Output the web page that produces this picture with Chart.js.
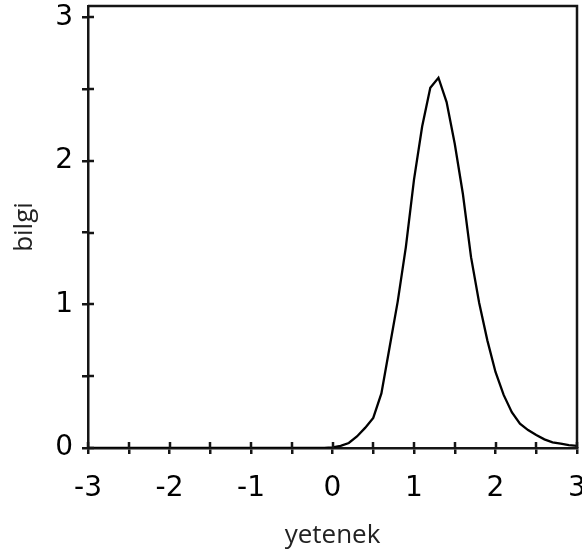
<!DOCTYPE html>
<html>
<head>
<meta charset="utf-8">
<script src="https://cdn.jsdelivr.net/npm/chart.js@4/dist/chart.umd.min.js"></script>
<style>
html,body{margin:0;padding:0;background:#fff;}
#c{display:block;}
</style>
</head>
<body>
<canvas id="c" width="582" height="553"></canvas>
<script>
// ability (yetenek) values
const abilityValues = [-3, -2, -1, -0.1, 0, 0.1, 0.2, 0.3, 0.4, 0.5, 0.6, 0.7, 0.8, 0.9, 1.0,
  1.1, 1.2, 1.3, 1.4, 1.5, 1.6, 1.7, 1.8, 1.9, 2.0, 2.1, 2.2, 2.3, 2.4, 2.5, 2.6, 2.7, 2.8, 2.9, 3.0];
// information (bilgi) values
const infoValues = [0, 0, 0, 0, 0.005, 0.015, 0.035, 0.08, 0.14, 0.21, 0.38, 0.70, 1.02, 1.40, 1.87,
  2.24, 2.51, 2.58, 2.41, 2.12, 1.77, 1.33, 1.01, 0.75, 0.53, 0.37, 0.25, 0.17, 0.125, 0.09, 0.06, 0.04, 0.03, 0.02, 0.015];
const xTickValues = [-3, -2.5, -2, -1.5, -1, -0.5, 0, 0.5, 1, 1.5, 2, 2.5, 3];
const yTickValues = [0, 0.5, 1, 1.5, 2, 2.5, 3];
const xTitle = 'yetenek';
const yTitle = 'bilgi';

const points = abilityValues.map((x, i) => ({x: x, y: infoValues[i]}));
const tickFont = {family: 'DejaVu Sans', size: 28};
const titleFont = {family: 'Open Sans', size: 26};
const ink = '#151515';

const framePlugin = {
  id: 'frame',
  afterDraw(chart) {
    const {ctx, chartArea} = chart;
    const {left, right, top, bottom} = chartArea;
    ctx.save();
    ctx.strokeStyle = ink;
    ctx.lineWidth = 2.5;
    ctx.beginPath();
    ctx.moveTo(left, top);
    ctx.lineTo(right, top);
    ctx.lineTo(right, bottom);
    ctx.stroke();
    const xs = chart.scales.x, ys = chart.scales.y;
    ctx.beginPath();
    xs.ticks.forEach(t => {
      const px = Math.round(xs.getPixelForValue(t.value));
      ctx.moveTo(px, bottom);
      ctx.lineTo(px, bottom - 6);
    });
    ys.ticks.forEach(t => {
      const py = Math.round(ys.getPixelForValue(t.value));
      ctx.moveTo(left, py);
      ctx.lineTo(left + 6, py);
    });
    ctx.stroke();
    ctx.restore();
  }
};

new Chart(document.getElementById('c'), {
  type: 'line',
  data: {
    datasets: [{
      data: points,
      borderColor: '#000',
      borderWidth: 2.3,
      pointRadius: 0,
      tension: 0,
      fill: false
    }]
  },
  options: {
    responsive: false,
    animation: false,
    devicePixelRatio: 1,
    layout: {padding: {top: 6, right: 5, left: 0, bottom: 0}},
    plugins: {legend: {display: false}, tooltip: {enabled: false}},
    scales: {
      x: {
        type: 'linear',
        min: -3, max: 3,
        afterBuildTicks(scale) { scale.ticks = xTickValues.map(v => ({value: v})); },
        afterFit(scale) { scale.height = 105; scale.paddingLeft = 0; scale.paddingRight = 0; },
        ticks: {
          autoSkip: false, maxRotation: 0, padding: 18, color: '#000', font: tickFont,
          callback: v => (Number.isInteger(v) ? String(v) : '')
        },
        grid: {drawOnChartArea: false, drawTicks: true, tickLength: 6, color: ink, lineWidth: 2.5},
        border: {display: true, color: ink, width: 2.5},
        title: {display: true, text: xTitle, color: '#222', font: titleFont, padding: {top: 0, bottom: 2}}
      },
      y: {
        type: 'linear',
        min: 0, max: 3.08,
        afterBuildTicks(scale) { scale.ticks = yTickValues.map(v => ({value: v})); },
        afterFit(scale) { scale.width = 88; scale.paddingTop = 0; scale.paddingBottom = 0; },
        ticks: {
          autoSkip: false, padding: 9, color: '#000', font: tickFont,
          callback: v => (Number.isInteger(v) ? String(v) : '')
        },
        grid: {drawOnChartArea: false, drawTicks: true, tickLength: 6, color: ink, lineWidth: 2.5},
        border: {display: true, color: ink, width: 2.5},
        title: {display: true, text: yTitle, color: '#222', font: titleFont, padding: {top: 9, bottom: 0}}
      }
    }
  },
  plugins: [framePlugin]
});
</script>
</body>
</html>
